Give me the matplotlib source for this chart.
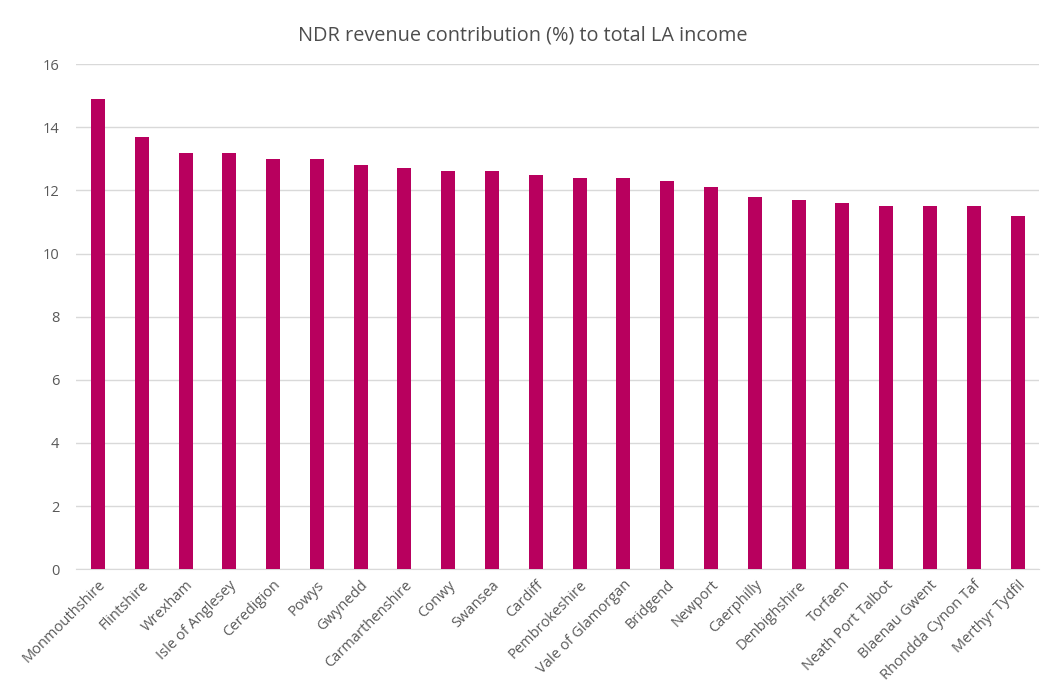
import matplotlib
matplotlib.use('Agg')
import matplotlib.pyplot as plt
import numpy as np

plt.rcParams['font.family'] = ['Open Sans', 'DejaVu Sans']

councils = ['Monmouthshire', 'Flintshire', 'Wrexham', 'Isle of Anglesey', 'Ceredigion',
            'Powys', 'Gwynedd', 'Carmarthenshire', 'Conwy', 'Swansea', 'Cardiff',
            'Pembrokeshire', 'Vale of Glamorgan', 'Bridgend', 'Newport', 'Caerphilly',
            'Denbighshire', 'Torfaen', 'Neath Port Talbot', 'Blaenau Gwent',
            'Rhondda Cynon Taf', 'Merthyr Tydfil']
ndr_pct = [14.9, 13.7, 13.2, 13.2, 13.0, 13.0, 12.8, 12.7, 12.6, 12.6, 12.5,
           12.4, 12.4, 12.3, 12.1, 11.8, 11.7, 11.6, 11.5, 11.5, 11.5, 11.2]

fig = plt.figure(figsize=(10.46, 6.9), dpi=100)
ax = fig.add_axes([0.0727, 0.175, 0.921, 0.732])

x = np.arange(len(councils))
ax.bar(x, ndr_pct, width=0.32, color='#B8005E', zorder=3)

ax.set_xlim(-0.5, len(councils) - 0.5)
ax.set_ylim(0, 16)
ax.set_yticks(range(0, 17, 2))
ax.grid(axis='y', color='#D9D9D9', linewidth=1, zorder=0)
for s in ax.spines.values():
    s.set_visible(False)
ax.spines['bottom'].set_visible(True)
ax.spines['bottom'].set_color('#D9D9D9')

ax.set_xticks(x)
ax.set_xticklabels(councils, rotation=45, ha='right', rotation_mode='anchor',
                   fontsize=10.5, color='#595959')
ax.tick_params(axis='x', length=0, pad=6)
ax.tick_params(axis='y', length=0, labelsize=10.5, labelcolor='#595959', pad=12)

fig.suptitle('NDR revenue contribution (%) to total LA income', y=0.963,
             fontsize=14.3, color='#4D4D4D')

fig.savefig('out.png', dpi=100)
